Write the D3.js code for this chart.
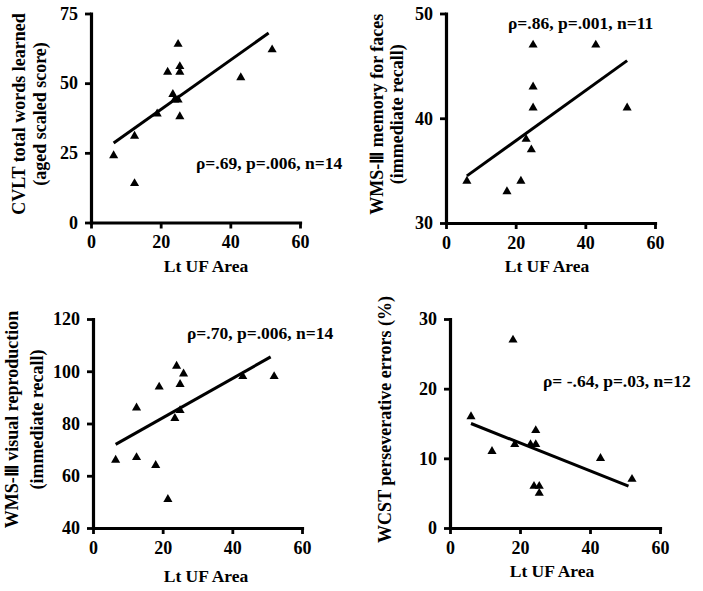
<!DOCTYPE html>
<html>
<head>
<meta charset="utf-8">
<script src="https://cdn.jsdelivr.net/npm/d3@7"></script>
<style>
  html, body { margin: 0; padding: 0; background: #fff; }
  svg { display: block; }
  text { font-family: "Liberation Serif", "Times New Roman", serif; font-weight: bold; fill: #000; }
</style>
</head>
<body>
<svg id="chart" width="703" height="591"></svg>
<script>
// ---------- data ----------
const xTicks = [0, 20, 40, 60];
const xLabel = "Lt UF Area";

// Panel 1: CVLT
const cvltX = [6.5, 12.5, 12.5, 19, 22, 23.5, 24, 25, 25, 25.5, 25.5, 25.5, 43, 52];
const cvltY = [24, 31, 14, 39, 54, 46, 44, 64, 44, 56, 54, 38, 52, 62];
const cvltFitX = [6.5, 51];
const cvltFitY = [28.5, 68];
const cvltTicks = [0, 25, 50, 75];
const cvltLabel = ["CVLT total words learned", "(aged scaled score)"];
const cvltStat = "ρ=.69, p=.006, n=14";

// Panel 2: WMS-III faces
const facesX = [6, 17.5, 21.5, 23, 24.5, 25, 25, 25, 43, 52];
const facesY = [34, 33, 34, 38, 37, 47, 43, 41, 47, 41];
const facesFitX = [6, 52];
const facesFitY = [34.5, 45.5];
const facesTicks = [30, 40, 50];
const facesLabel = ["WMS-Ⅲ memory for faces", "(immediate recall)"];
const facesStat = "ρ=.86, p=.001, n=11";

// Panel 3: WMS-III visual reproduction
const visX = [6.5, 12.5, 12.5, 18, 19, 21.5, 23.5, 24, 25, 25, 26, 43, 52];
const visY = [66, 86, 67, 64, 94, 51, 82, 102, 95, 85, 99, 98, 98];
const visFitX = [6.5, 51];
const visFitY = [72, 105.5];
const visTicks = [40, 60, 80, 100, 120];
const visLabel = ["WMS-Ⅲ visual reproduction", "(immediate recall)"];
const visStat = "ρ=.70, p=.006, n=14";

// Panel 4: WCST
const wcstX = [6, 12, 18, 18.5, 23, 24.5, 24.5, 24, 25.5, 25.5, 43, 52];
const wcstY = [16, 11, 27, 12, 12, 12, 14, 6, 6, 5, 10, 7];
const wcstFitX = [6, 51];
const wcstFitY = [15, 6];
const wcstTicks = [0, 10, 20, 30];
const wcstLabel = ["WCST perseverative errors (%)"];
const wcstStat = "ρ= -.64, p=.03, n=12";

// ---------- layout ----------
const panels = [
  { xs: cvltX, ys: cvltY, fx: cvltFitX, fy: cvltFitY, ticks: cvltTicks, label: cvltLabel, stat: cvltStat,
    px: [91, 300], py: [222.5, 13.5], statPos: [196, 169], xlabPos: [206, 272], ylabX: [25, 46] },
  { xs: facesX, ys: facesY, fx: facesFitX, fy: facesFitY, ticks: facesTicks, label: facesLabel, stat: facesStat,
    px: [446, 655], py: [223, 13.5], statPos: [508, 29], xlabPos: [547, 272], ylabX: [383, 403] },
  { xs: visX, ys: visY, fx: visFitX, fy: visFitY, ticks: visTicks, label: visLabel, stat: visStat,
    px: [93, 302], py: [528, 319], statPos: [187, 339], xlabPos: [206, 582], ylabX: [18, 43] },
  { xs: wcstX, ys: wcstY, fx: wcstFitX, fy: wcstFitY, ticks: wcstTicks, label: wcstLabel, stat: wcstStat,
    px: [450, 660], py: [528, 319], statPos: [543, 387], xlabPos: [552, 577], ylabX: [391] }
];

const svg = d3.select("#chart");
const tri = d3.symbol().type(d3.symbolTriangle).size(36);

panels.forEach(p => {
  const x = d3.scaleLinear().domain([0, 60]).range(p.px);
  const y = d3.scaleLinear().domain(d3.extent(p.ticks)).range(p.py);
  const g = svg.append("g");

  // axes
  const ax = g.append("g").attr("transform", `translate(0,${p.py[0]})`)
    .call(d3.axisBottom(x).tickValues(xTicks).tickSize(6).tickSizeOuter(0).tickPadding(7));
  const ay = g.append("g").attr("transform", `translate(${p.px[0]},0)`)
    .call(d3.axisLeft(y).tickValues(p.ticks).tickSize(6).tickSizeOuter(0).tickPadding(7));
  [ax, ay].forEach(a => {
    a.select(".domain").attr("stroke", "#000").attr("stroke-width", 3.2).attr("stroke-linecap", "square");
    a.selectAll(".tick line").attr("stroke", "#000").attr("stroke-width", 2.8);
    a.selectAll(".tick text").style("font-size", "18px").style("font-family", "Liberation Serif, serif").style("font-weight", "bold").attr("fill", "#000");
  });

  // fit line
  const line = d3.line().x(d => x(d[0])).y(d => y(d[1]));
  g.append("path").datum(d3.zip(p.fx, p.fy))
    .attr("d", line).attr("fill", "none").attr("stroke", "#000").attr("stroke-width", 3);

  // points
  g.selectAll("path.pt").data(d3.zip(p.xs, p.ys)).enter().append("path")
    .attr("class", "pt")
    .attr("d", tri)
    .attr("transform", d => `translate(${x(d[0])},${y(d[1])})`)
    .attr("fill", "#000");

  // stat text
  g.append("text").attr("x", p.statPos[0]).attr("y", p.statPos[1])
    .style("font-size", "17.5px").text(p.stat);

  // x label
  g.append("text").attr("x", p.xlabPos[0]).attr("y", p.xlabPos[1])
    .attr("text-anchor", "middle").style("font-size", "17.5px").text(xLabel);

  // y label
  const cy = (p.py[0] + p.py[1]) / 2 - 4;
  p.label.forEach((t, i) => {
    g.append("text")
      .attr("transform", `translate(${p.ylabX[i]},${cy}) rotate(-90)`)
      .attr("text-anchor", "middle").style("font-size", "18px").text(t);
  });
});
</script>
</body>
</html>
